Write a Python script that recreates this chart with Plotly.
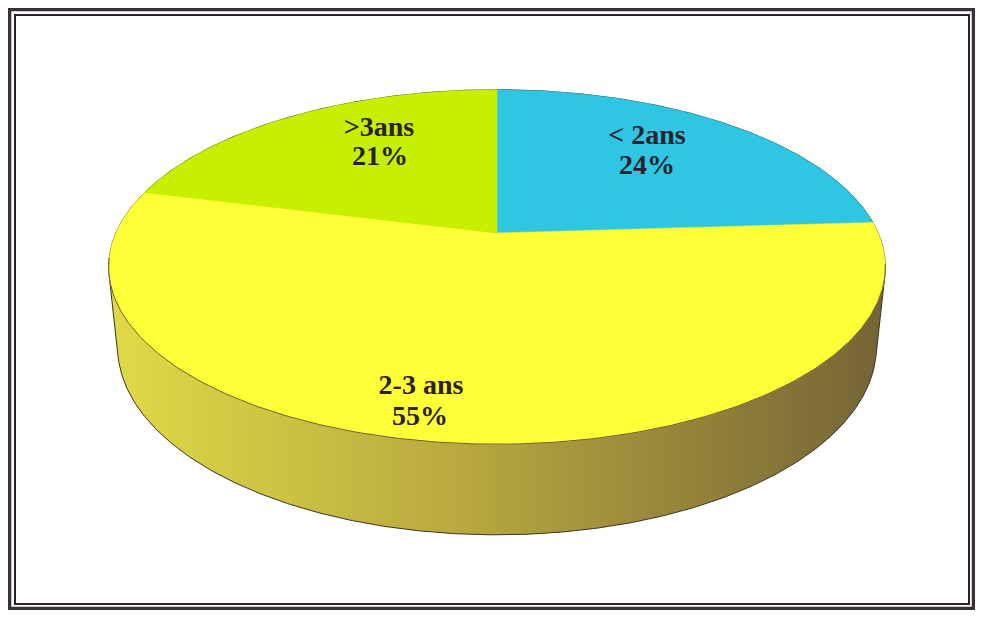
import numpy as np
import plotly.graph_objects as go

# ---- data ----
labels = ["&lt; 2ans", "2-3 ans", "&gt;3ans"]
values = [24, 55, 21]
pct_text = ["24%", "55%", "21%"]
colors = ["#2ec6e2", "#ffff38", "#c6f000"]
wall_colors = [[0.0, "#e0da46"], [0.45, "#b9a93f"], [1.0, "#746436"]]

# ---- layout / projection constants (page pixels) ----
W, H = 983, 618
OFF = 8                    # page body margin
FW, FH = W - 2*OFF, H - 2*OFF   # figure size that fits without scrollbars
CX, CY = 497, 233          # apex of the pie on screen
F = 1780.0                 # focal length
D = 4.67                   # camera distance (pie radius = 1)
PHI = np.arcsin(0.448)     # elevation angle
HT = 0.235                 # pie thickness
name_pos = [(647, 137), (421, 387), (379, 129)]
pct_pos = [(647, 167), (420, 418), (380, 158)]


def proj(theta, r=1.0, z=0.0):
    X = r * np.sin(theta)
    Y = r * np.cos(theta)
    depth = D + Y * np.cos(PHI) - z * np.sin(PHI)
    up = Y * np.sin(PHI) + z * np.cos(PHI)
    return CX + F * X / depth, CY - F * up / depth


def hull(points):
    pts = sorted(set(points))
    def cross(o, a, b):
        return (a[0]-o[0])*(b[1]-o[1]) - (a[1]-o[1])*(b[0]-o[0])
    lower, upper = [], []
    for p in pts:
        while len(lower) >= 2 and cross(lower[-2], lower[-1], p) <= 0:
            lower.pop()
        lower.append(p)
    for p in reversed(pts):
        while len(upper) >= 2 and cross(upper[-2], upper[-1], p) <= 0:
            upper.pop()
        upper.append(p)
    return lower[:-1] + upper[:-1]


fig = go.Figure()

# side wall: convex hull of top and bottom outlines
th = np.linspace(0, 2*np.pi, 721)
tx, ty = proj(th, 1.0, 0.0)
bx, by = proj(th, 1.0, -HT)
pts = [(round(float(a), 3), round(float(b), 3)) for a, b in zip(np.r_[tx, bx], np.r_[ty, by])]
hp = hull(pts)
hp.append(hp[0])
fig.add_trace(go.Scatter(
    x=[p[0] for p in hp], y=[p[1] for p in hp], mode="lines", fill="toself",
    fillgradient=dict(type="horizontal", colorscale=wall_colors),
    line=dict(color="#3b3422", width=1), hoverinfo="skip", showlegend=False))

# top surface slices
total = float(sum(values))
start = 0.0
for lab, v, c in zip(labels, values, colors):
    a0 = start / total * 2*np.pi
    a1 = (start + v) / total * 2*np.pi
    ang = np.linspace(a0, a1, max(int(v*6), 20))
    sx, sy = proj(ang, 1.0, 0.0)
    xs = [CX] + list(sx) + [CX]
    ys = [CY] + list(sy) + [CY]
    fig.add_trace(go.Scatter(x=xs, y=ys, mode="lines", fill="toself", fillcolor=c,
                             line=dict(color=c, width=0.5), hoverinfo="skip",
                             showlegend=False))
    start += v

# front edge of the top surface
fa = np.linspace(np.radians(100), np.radians(262), 200)
fx, fy = proj(fa, 1.0, 0.0)
fig.add_trace(go.Scatter(x=fx, y=fy, mode="lines",
                         line=dict(color="#6a5e34", width=1),
                         hoverinfo="skip", showlegend=False))

# labels
fnt = dict(family="Liberation Serif", size=28, color="#2b2230")
fig.add_trace(go.Scatter(
    x=[p[0] for p in name_pos], y=[p[1] for p in name_pos], mode="text",
    text=[f"<b>{l}</b>" for l in labels], textposition="middle center",
    textfont=fnt, hoverinfo="skip", showlegend=False))
fig.add_trace(go.Scatter(
    x=[p[0] for p in pct_pos], y=[p[1] for p in pct_pos], mode="text",
    text=[f"<b>{p}</b>" for p in pct_text], textposition="middle center",
    textfont=fnt, hoverinfo="skip", showlegend=False))


def px(v):
    return (v - OFF) / FW


def py(v):
    return 1 - (v - OFF) / FH


# frame (paper coordinates)
fig.add_shape(type="rect", xref="paper", yref="paper",
              x0=px(9.5), y0=py(9.5), x1=px(W - OFF - 1.5), y1=py(H - OFF - 1.5),
              line=dict(color="#3a3038", width=3.5))
fig.add_shape(type="rect", xref="paper", yref="paper",
              x0=px(15), y0=py(15), x1=px(W - OFF - 6), y1=py(H - OFF - 6),
              line=dict(color="#2a2228", width=2))

fig.update_layout(
    width=FW, height=FH, margin=dict(l=0, r=0, t=0, b=0),
    paper_bgcolor="white", plot_bgcolor="white",
    xaxis=dict(range=[OFF, OFF + FW], visible=False, fixedrange=True),
    yaxis=dict(range=[OFF + FH, OFF], visible=False, fixedrange=True),
)

fig.write_html("out.html")
